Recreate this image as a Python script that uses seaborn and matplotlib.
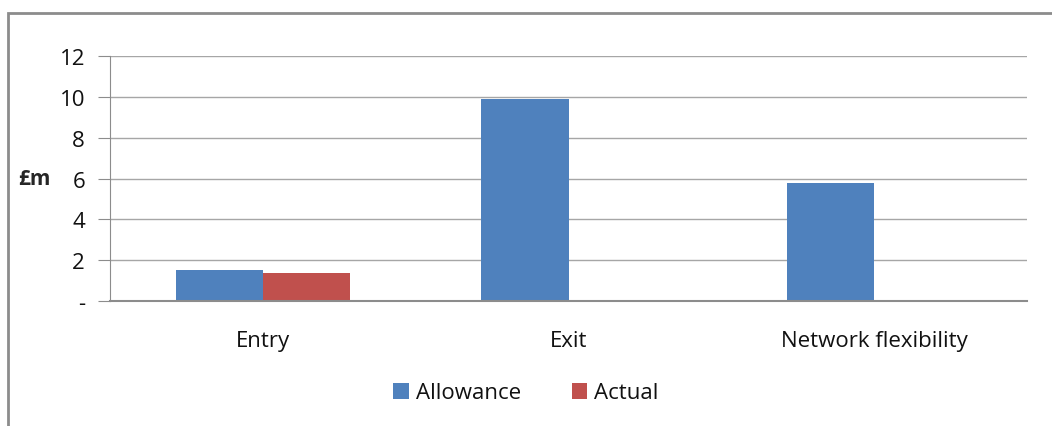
# Allowance vs actual spend by category
import pandas as pd
import seaborn as sns
import matplotlib.pyplot as plt
from matplotlib.patches import Rectangle

categories = ["Entry", "Exit", "Network flexibility"]
allowance = [1.52, 9.9, 5.78]
actual = [1.37, None, None]
series = ["Allowance", "Actual"]
colors = ["#4F81BD", "#C0504D"]

df = pd.DataFrame({
    "category": categories * 2,
    "series": [series[0]] * 3 + [series[1]] * 3,
    "value": allowance + actual,
})

sns.set_style("white")
plt.rcParams['font.family'] = ['Open Sans', 'DejaVu Sans']
fs = 16

fig = plt.figure(figsize=(10.52, 4.27), dpi=100)
ax = fig.add_axes([110 / 1052, 1 - 302 / 427, 917 / 1052, 245 / 427])

sns.barplot(data=df, x="category", y="value", hue="series", palette=colors,
            width=0.57, ax=ax, saturation=1, legend=True, linewidth=0)

ax.set_ylim(0, 12)
ax.set_xlim(-0.5, 2.5)
ax.set_yticks(range(0, 13, 2))
ax.set_yticklabels(["-"] + [str(v) for v in range(2, 13, 2)])
ax.yaxis.grid(True, color="#a6a6a6", linewidth=1)
ax.set_axisbelow(True)

# category boundary ticks on x axis
ax.set_xticks([-0.5, 0.5, 1.5, 2.5], minor=True)
ax.set_xticks([0, 1, 2])
ax.tick_params(axis="x", which="major", length=0, pad=21, labelsize=fs, colors="#111111")
ax.tick_params(axis="x", which="minor", length=9, color="#8c8c8c", direction="out")
ax.tick_params(axis="y", length=9, color="#8c8c8c", direction="out", pad=9,
               labelsize=fs, labelcolor="#111111", left=True)

for s in ["top", "right"]:
    ax.spines[s].set_visible(False)
ax.spines["left"].set_color("#8c8c8c")
ax.spines["bottom"].set_color("#8c8c8c")
ax.spines["bottom"].set_linewidth(1.5)

ax.set_xlabel("")
ax.set_ylabel("£m", rotation=0, fontweight="bold", fontsize=fs - 1, va="center", ha="center")
ax.yaxis.set_label_coords((34 - 110) / 917, 0.5)

leg = ax.legend(loc="center", bbox_to_anchor=(0.5, 1 - 394 / 427), bbox_transform=fig.transFigure,
                ncol=2, frameon=False, fontsize=fs, handlelength=0.7, handleheight=0.7,
                handletextpad=0.3, columnspacing=2.3)
for t in leg.get_texts():
    t.set_color("#111111")

# outer chart border
fig.patches.append(Rectangle((8 / 1052, -0.05), 1.1, 1 - 14 / 427 + 0.05,
                             transform=fig.transFigure, fill=False,
                             edgecolor="#8c8c8c", linewidth=2))

fig.savefig("out.png", dpi=100)
